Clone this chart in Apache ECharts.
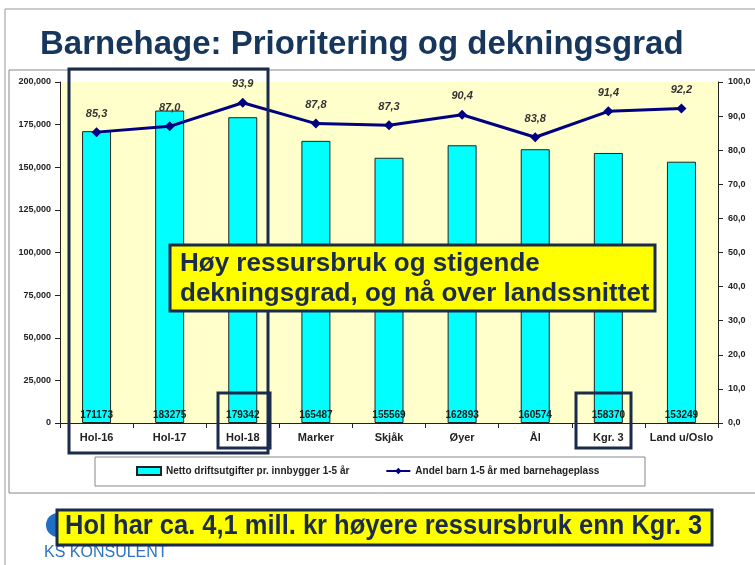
<!DOCTYPE html>
<html>
<head>
<meta charset="utf-8">
<script src="https://cdn.jsdelivr.net/npm/echarts@6/dist/echarts.min.js"></script>
<style>
  html, body { margin: 0; padding: 0; background: #fff; }
  #main { width: 755px; height: 565px; }
</style>
</head>
<body>
<div id="main"></div>
<script>
// kategorier og verdier
var categories = ['Hol-16', 'Hol-17', 'Hol-18', 'Marker', 'Skjåk', 'Øyer', 'Ål', 'Kgr. 3', 'Land u/Oslo'];
var nettoDrift = [171173, 183275, 179342, 165487, 155569, 162893, 160574, 158370, 153249];
var andelBarn = [85.3, 87.0, 93.9, 87.8, 87.3, 90.4, 83.8, 91.4, 92.2];
var leftTicks = [0, 200000, 25000];
var rightTicks = [0, 100, 10];

var chart = echarts.init(document.getElementById('main'));
var navy = '#1b2b4b';
var font = 'Liberation Sans, Arial, sans-serif';

var option = {
    animation: false,
    textStyle: { fontFamily: font },
    grid: {
        left: 60, right: 37, top: 82, bottom: 142,
        show: true, backgroundColor: '#ffffcc', borderWidth: 0
    },
    legend: {
        left: 131, top: 461,
        itemGap: 36,
        itemWidth: 24, itemHeight: 8,
        textStyle: { fontSize: 10, fontWeight: 'bold', color: '#222', fontFamily: font },
        data: [
            { name: 'Netto driftsutgifter pr. innbygger 1-5 år', icon: 'rect' },
            { name: 'Andel barn 1-5 år med barnehageplass' }
        ]
    },
    xAxis: {
        type: 'category',
        data: categories,
        axisLine: { lineStyle: { color: '#222', width: 1 } },
        axisTick: { show: true, length: 5, lineStyle: { color: '#222' } },
        axisLabel: { interval: 0, fontSize: 11, fontWeight: 'bold', color: '#222', margin: 9 }
    },
    yAxis: [
        {
            type: 'value',
            min: leftTicks[0], max: leftTicks[1], interval: leftTicks[2],
            splitLine: { show: false },
            axisLine: { show: true, lineStyle: { color: '#222' } },
            axisTick: { show: true, length: 5, lineStyle: { color: '#222' } },
            axisLabel: { fontSize: 9, fontWeight: 'bold', color: '#222', margin: 9 }
        },
        {
            type: 'value',
            min: rightTicks[0], max: rightTicks[1], interval: rightTicks[2],
            splitLine: { show: false },
            axisLine: { show: true, lineStyle: { color: '#222' } },
            axisTick: { show: true, length: 5, lineStyle: { color: '#222' } },
            axisLabel: {
                fontSize: 9, fontWeight: 'bold', color: '#222', margin: 10,
                formatter: function (v) { return v.toFixed(1).replace('.', ','); }
            }
        }
    ],
    series: [
        {
            name: 'Netto driftsutgifter pr. innbygger 1-5 år',
            type: 'bar',
            data: nettoDrift,
            barWidth: 29,
            itemStyle: { color: '#00ffff', borderColor: '#222', borderWidth: 1 },
            label: {
                show: true, position: 'insideBottom', distance: 3,
                fontSize: 10, fontWeight: 'bold', color: '#1a1a1a'
            }
        },
        {
            name: 'Andel barn 1-5 år med barnehageplass',
            type: 'line',
            yAxisIndex: 1,
            data: andelBarn,
            symbol: 'diamond', symbolSize: 10,
            lineStyle: { color: '#000080', width: 3 },
            itemStyle: { color: '#000080' },
            label: {
                show: true, position: 'top', distance: 8,
                fontSize: 11, fontWeight: 'bold', fontStyle: 'italic', color: '#333',
                formatter: function (p) { return p.value.toFixed(1).replace('.', ','); }
            }
        }
    ],
    graphic: [
        // lysbilde-ramme
        { type: 'line', shape: { x1: 5, y1: 9, x2: 755, y2: 9 }, style: { stroke: '#999', lineWidth: 1 }, z: 1 },
        { type: 'line', shape: { x1: 5, y1: 9, x2: 5, y2: 565 }, style: { stroke: '#999', lineWidth: 1 }, z: 1 },
        // diagramramme
        { type: 'rect', shape: { x: 9, y: 70, width: 760, height: 423 }, style: { fill: null, stroke: '#888', lineWidth: 1 }, z: 1 },
        // legendeboks
        { type: 'rect', shape: { x: 95, y: 457, width: 550, height: 29 }, style: { fill: '#fff', stroke: '#888', lineWidth: 1 }, z: 1 },
        // tittel
        {
            type: 'text', left: 40, top: 28, z: 10,
            style: { text: 'Barnehage: Prioritering og dekningsgrad', font: 'bold 33px ' + font, fill: '#16365c' }
        },
        // markeringsbokser
        { type: 'rect', shape: { x: 69, y: 69, width: 199, height: 384 }, style: { fill: null, stroke: navy, lineWidth: 3 }, z: 20 },
        { type: 'rect', shape: { x: 218, y: 393, width: 52, height: 55 }, style: { fill: null, stroke: navy, lineWidth: 3 }, z: 20 },
        { type: 'rect', shape: { x: 576, y: 393, width: 55, height: 55 }, style: { fill: null, stroke: navy, lineWidth: 3 }, z: 20 },
        // gul tekstboks
        { type: 'rect', shape: { x: 170, y: 245, width: 485, height: 66 }, style: { fill: '#ffff00', stroke: navy, lineWidth: 3 }, z: 21 },
        {
            type: 'text', left: 180, top: 249, z: 22,
            style: {
                text: 'Høy ressursbruk og stigende\ndekningsgrad, og nå over landssnittet',
                font: 'bold 26px ' + font, fill: navy, lineHeight: 30
            }
        },
        // logo
        { type: 'circle', shape: { cx: 58, cy: 525, r: 12 }, style: { fill: '#1f6fc5' }, z: 5 },
        {
            type: 'text', left: 44, top: 545, z: 5,
            style: { text: 'KS KONSULENT', font: '16px ' + font, fill: '#2f74c0' }
        },
        // bunntekst
        { type: 'rect', shape: { x: 57, y: 510, width: 655, height: 35 }, style: { fill: '#ffff00', stroke: navy, lineWidth: 3 }, z: 21 },
        {
            type: 'text', x: 65, y: 512, scaleX: 0.91, z: 22,
            style: { text: 'Hol har ca. 4,1 mill. kr høyere ressursbruk enn Kgr. 3', font: 'bold 28px ' + font, fill: navy }
        }
    ]
};

chart.setOption(option);
</script>
</body>
</html>
